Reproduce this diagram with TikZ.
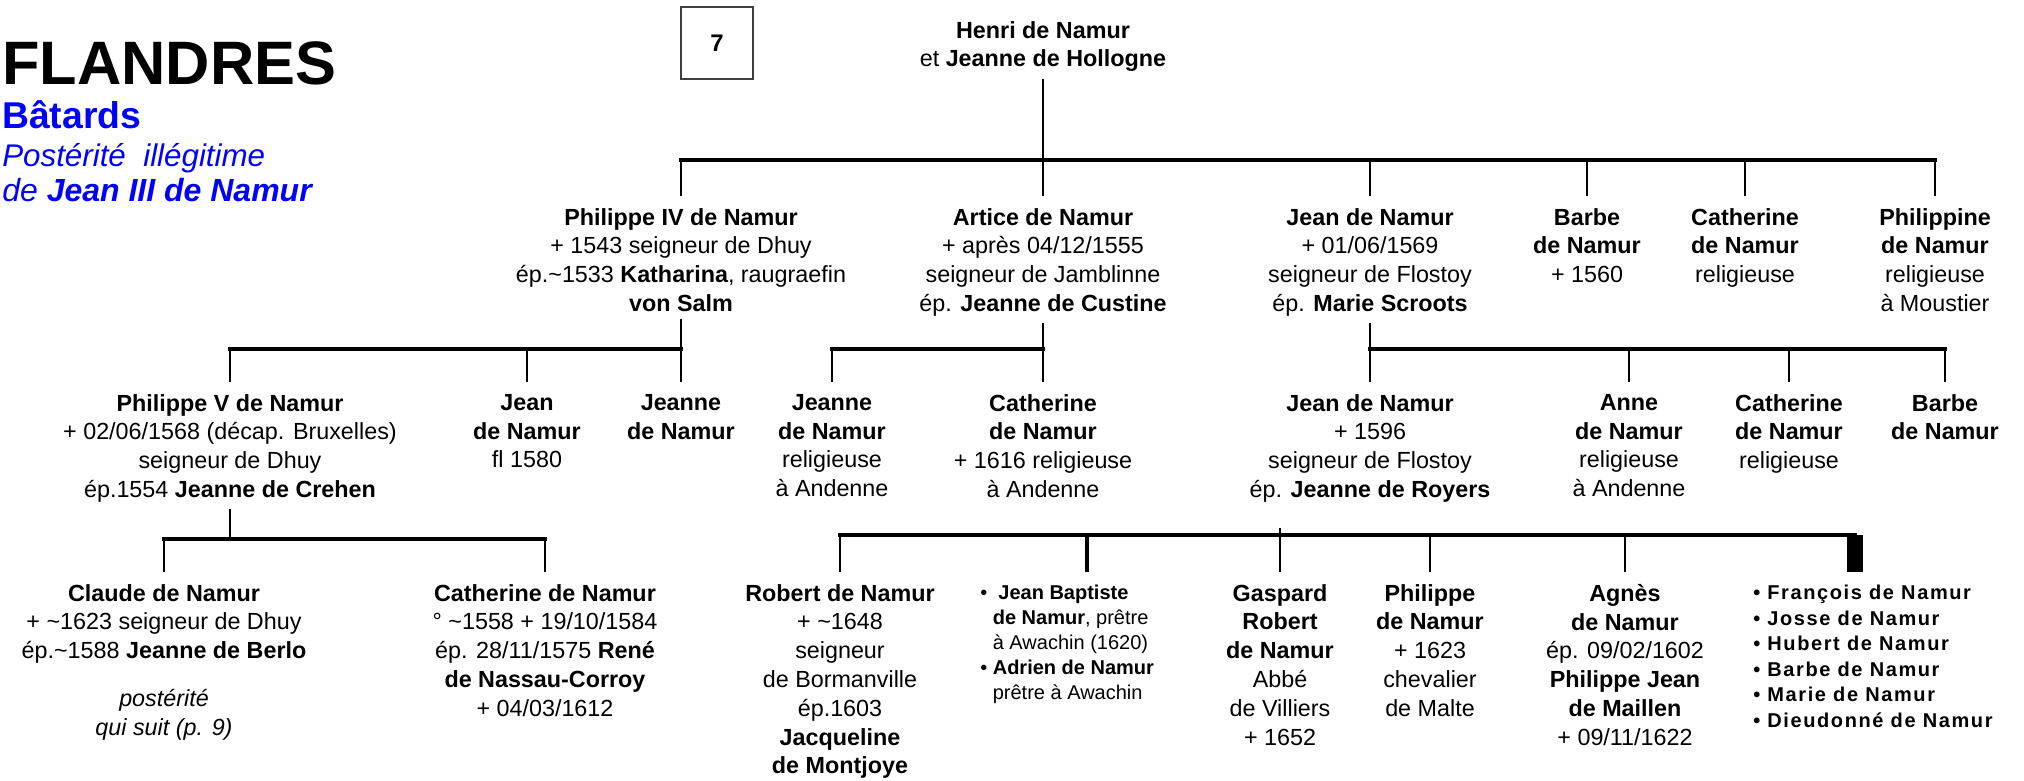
\documentclass[tikz,border=0pt]{standalone}
\usepackage{fontspec}
\setmainfont{Liberation Sans}
\newfontfamily\spacedfont[LetterSpace=8]{Liberation Sans}
\definecolor{titleblue}{RGB}{0,0,255}

\begin{document}
\begin{tikzpicture}[x=0.75pt, y=-0.75pt,
  person/.style={align=center, anchor=north, inner xsep=0pt, inner ysep=9pt,
    font=\fontsize{17.5}{21.6}\selectfont},
  kidlist/.style={align=left, anchor=north west, inner xsep=0pt, inner ysep=9.5pt,
    font=\fontsize{15}{18.75}\selectfont},
  title/.style={anchor=base west, inner sep=0pt},
  link/.style={line width=1.6pt},
  stem/.style={line width=1.6pt, shorten <=-4pt},
  bar/.style={line width=2.4pt, line cap=rect}]
  \useasboundingbox (0,0) rectangle (2024,781);
  % --- Title ---
  \node[title, font=\fontsize{46}{46}\selectfont\bfseries] (flandres) at (2,85) {FLANDRES};
  \node[title, text=titleblue, font=\fontsize{28}{28}\selectfont\bfseries] (batards) at (2,129) {Bâtards};
  \node[title, text=titleblue, font=\fontsize{23.5}{23.5}\selectfont\itshape] (posterite) at (2,167) {Postérité\ \ illégitime};
  \node[title, text=titleblue, font=\fontsize{24}{24}\selectfont\itshape] (subtitle) at (2,202) {de \textbf{Jean III de Namur}};
  \node[draw=black!75, line width=0.9pt, minimum width=54pt, minimum height=54pt,
    font=\fontsize{18}{18}\selectfont\bfseries] (page) at (717,43) {7};
  % --- Generation 1 ---
  \node[person] (henri) at (1043,9) {\textbf{Henri de Namur}\\et \textbf{Jeanne de Hollogne}};
  % --- Generation 2 ---
  \node[person] (ph4) at (681,196) {\textbf{Philippe IV de Namur}\\+ 1543 seigneur de Dhuy\\ép.\textasciitilde1533 \textbf{Katharina}, raugraefin\\\textbf{von Salm}};
  \node[person] (artice) at (1043,196) {\textbf{Artice de Namur}\\+ après 04/12/1555\\seigneur de Jamblinne\\ép. \textbf{Jeanne de Custine}};
  \node[person] (jean1) at (1370,196) {\textbf{Jean de Namur}\\+ 01/06/1569\\seigneur de Flostoy\\ép. \textbf{Marie Scroots}};
  \node[person] (barbe1) at (1587,196) {\textbf{Barbe}\\\textbf{de Namur}\\+ 1560};
  \node[person] (cath1) at (1745,196) {\textbf{Catherine}\\\textbf{de Namur}\\religieuse};
  \node[person] (philippine) at (1935,196) {\textbf{Philippine}\\\textbf{de Namur}\\religieuse\\à Moustier};
  % --- Generation 3 ---
  \node[person] (ph5) at (230,382) {\textbf{Philippe V de Namur}\\+ 02/06/1568 (décap. Bruxelles)\\seigneur de Dhuy\\ép.1554 \textbf{Jeanne de Crehen}};
  \node[person] (jean2) at (527,382) {\textbf{Jean}\\\textbf{de Namur}\\fl 1580};
  \node[person] (jeanne2) at (681,382) {\textbf{Jeanne}\\\textbf{de Namur}};
  \node[person] (jeanne3) at (832,382) {\textbf{Jeanne}\\\textbf{de Namur}\\religieuse\\à Andenne};
  \node[person] (cath2) at (1043,382) {\textbf{Catherine}\\\textbf{de Namur}\\+ 1616 religieuse\\à Andenne};
  \node[person] (jean3) at (1370,382) {\textbf{Jean de Namur}\\+ 1596\\seigneur de Flostoy\\ép. \textbf{Jeanne de Royers}};
  \node[person] (anne) at (1629,382) {\textbf{Anne}\\\textbf{de Namur}\\religieuse\\à Andenne};
  \node[person] (cath3) at (1789,382) {\textbf{Catherine}\\\textbf{de Namur}\\religieuse};
  \node[person] (barbe2) at (1945,382) {\textbf{Barbe}\\\textbf{de Namur}};
  % --- Generation 4 ---
  \node[person] (claude) at (164,572) {\textbf{Claude de Namur}\\+ \textasciitilde1623 seigneur de Dhuy\\ép.\textasciitilde1588 \textbf{Jeanne de Berlo}};
  \node[person, inner ysep=0pt, font=\fontsize{17.5}{21.6}\selectfont\itshape] (suite) at (164,689) {postérité\\qui suit (p. 9)};
  \node[person] (cath4) at (545,572) {\textbf{Catherine de Namur}\\° \textasciitilde1558 + 19/10/1584\\ép. 28/11/1575 \textbf{René}\\\textbf{de Nassau-Corroy}\\+ 04/03/1612};
  \node[person] (robert) at (840,572) {\textbf{Robert de Namur}\\+ \textasciitilde1648\\seigneur\\de Bormanville\\ép.1603\\\textbf{Jacqueline}\\\textbf{de Montjoye}};
  \node[kidlist] (jbl) at (980,572) {\textbullet\ \ \textbf{Jean Baptiste}\\
    \phantom{\textbullet\ }\textbf{de Namur}, prêtre\\
    \phantom{\textbullet\ }à Awachin (1620)\\
    \textbullet\ \textbf{Adrien de Namur}\\
    \phantom{\textbullet\ }prêtre à Awachin};
  \node[person] (gaspard) at (1280,572) {\textbf{Gaspard}\\\textbf{Robert}\\\textbf{de Namur}\\Abbé\\de Villiers\\+ 1652};
  \node[person] (ph6) at (1430,572) {\textbf{Philippe}\\\textbf{de Namur}\\+ 1623\\chevalier\\de Malte};
  \node[person] (agnes) at (1625,572) {\textbf{Agnès}\\\textbf{de Namur}\\ép. 09/02/1602\\\textbf{Philippe Jean}\\\textbf{de Maillen}\\+ 09/11/1622};
  \node[kidlist, font=\spacedfont\fontsize{15}{19.2}\selectfont\bfseries] (fl) at (1753,572) {\textbullet\ François de Namur\\\textbullet\ Josse de Namur\\\textbullet\ Hubert de Namur\\\textbullet\ Barbe de Namur\\\textbullet\ Marie de Namur\\\textbullet\ Dieudonné de Namur};
  % --- Links: Henri ---
  \coordinate (b1) at (0,160);
  \draw[stem] (henri.south) -- (henri |- b1);
  \draw[bar] (ph4 |- b1) -- (philippine |- b1);
  \foreach \k in {ph4,artice,jean1,barbe1,cath1,philippine}
    \draw[link] (\k |- b1) -- (\k.north);
  % --- Links: Philippe IV, Artice, Jean ---
  \coordinate (b2) at (0,349);
  \draw[stem] (ph4.south) -- (ph4 |- b2);
  \draw[bar] (ph5 |- b2) -- (jeanne2 |- b2);
  \foreach \k in {ph5,jean2,jeanne2}
    \draw[link] (\k |- b2) -- (\k.north);
  \draw[stem] (artice.south) -- (artice |- b2);
  \draw[bar] (jeanne3 |- b2) -- (cath2 |- b2);
  \foreach \k in {jeanne3,cath2}
    \draw[link] (\k |- b2) -- (\k.north);
  \draw[stem] (jean1.south) -- (jean1 |- b2);
  \draw[bar] (jean3 |- b2) -- (barbe2 |- b2);
  \foreach \k in {jean3,anne,cath3,barbe2}
    \draw[link] (\k |- b2) -- (\k.north);
  % --- Links: Philippe V ---
  \coordinate (b3) at (0,539);
  \draw[stem] (ph5.south) -- (ph5 |- b3);
  \draw[bar] (claude |- b3) -- (cath4 |- b3);
  \foreach \k in {claude,cath4}
    \draw[link] (\k |- b3) -- (\k.north);
  % --- Links: children of Jean (+1596) ---
  \coordinate (b4) at (0,535);
  \coordinate (jbtop) at (1087,535);
  \coordinate (fltop) at (1855,535);
  \draw[bar] (robert |- b4) -- (fltop);
  \foreach \k in {robert,ph6,agnes}
    \draw[link] (\k |- b4) -- (\k.north);
  \draw[link] ([yshift=5pt]gaspard |- b4) -- (gaspard.north);
  \draw[line width=3.6pt] (jbtop) -- (jbl.north -| jbtop);
  \draw[line width=12pt] (fltop) -- (fl.north -| fltop);
\end{tikzpicture}
\end{document}
